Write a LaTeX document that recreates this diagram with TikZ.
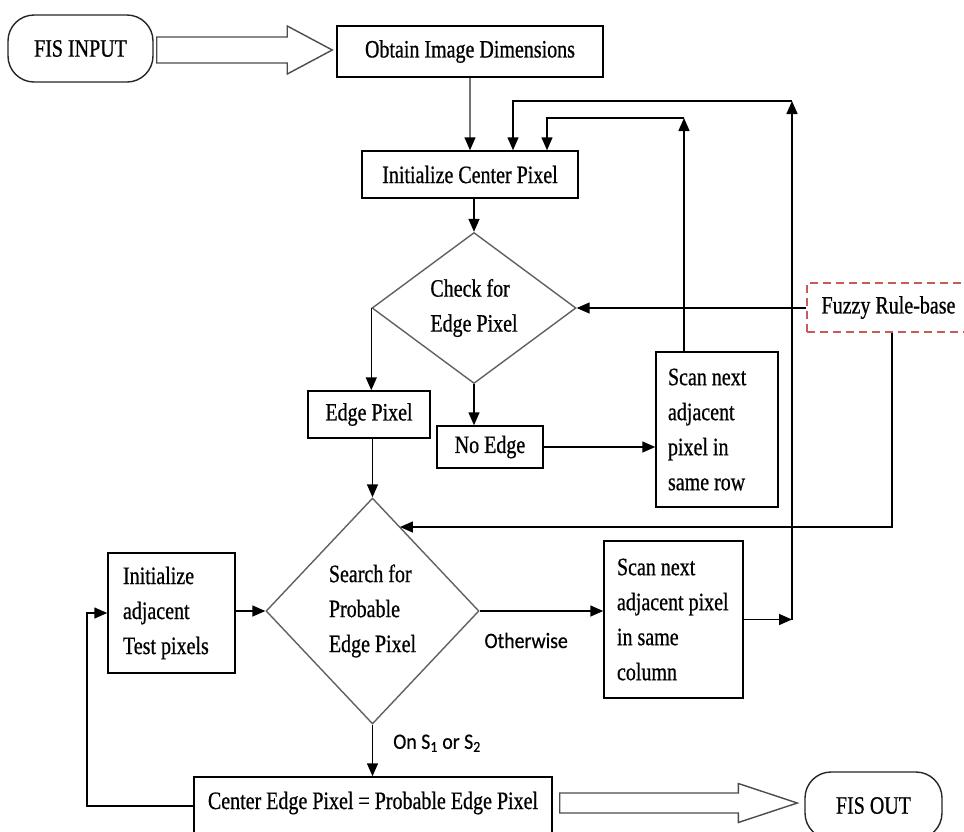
\documentclass[tikz,border=0pt]{standalone}
\usepackage{fontspec}
\setmainfont{Liberation Serif}[FakeStretch=0.8,FakeBold=0.7]
\newfontfamily\lblfont{Carlito}[FakeStretch=0.9,FakeBold=0.4]
\usetikzlibrary{shapes.geometric,arrows.meta,calc}
\definecolor{fuzzyred}{HTML}{C85A58}
\begin{document}
\begin{tikzpicture}[x=1pt,y=-1pt,
  every node/.style={font=\fontsize{25}{35}\selectfont, inner sep=0pt},
  box/.style={draw=black, line width=1.5pt, rectangle},
  term/.style={draw=black!85, line width=1.4pt, rounded corners=26pt},
  dia/.style={diamond, draw=black!62, line width=1.4pt, align=left},
  arr/.style={line width=1.5pt, -{Triangle[length=13pt,width=11pt,color=black]}},
  hollow/.style={draw=black!70, line width=1.4pt, fill=white, line join=miter},
  lbl/.style={font=\lblfont\fontsize{22}{26}\selectfont},
]
\useasboundingbox (0,0) rectangle (964,831);
\fill[white] (0,0) rectangle (964,831);
\clip (0,0) rectangle (964,831);

% nodes
\node[term, minimum width=145pt, minimum height=67pt] (fisin) at (80.5,48.5) {FIS INPUT};
\node[box, minimum width=266pt, minimum height=51pt] (obtain) at (470,51.5) {Obtain Image Dimensions};
\node[box, minimum width=216pt, minimum height=47pt] (initc) at (470,174.5) {Initialize Center Pixel};
\node[dia, minimum width=204pt, minimum height=151pt] (check) at (474,308) {Check for\\Edge Pixel};
\node[box, minimum width=122pt, minimum height=47pt] (edgep) at (369,414.5) {Edge Pixel};
\node[box, minimum width=106pt, minimum height=42pt] (noedge) at (490,447) {No Edge};
\node[box, text width=98pt, inner xsep=12pt, minimum height=155pt, align=flush left] (scanrow) at (717,429.5) {Scan next\\adjacent\\pixel in\\same row};
\node[draw=fuzzyred, dash pattern=on 8pt off 5pt, line width=1.6pt, minimum width=163pt, minimum height=49pt] (fuzzy) at (888.5,307.5) {Fuzzy Rule-base};
\node[dia, minimum width=213pt, minimum height=226pt] (search) at (372.5,611) {Search for\\Probable\\Edge Pixel};
\node[box, text width=97pt, inner xsep=15pt, minimum height=120pt, align=flush left] (initadj) at (171.5,613) {Initialize\\adjacent\\Test pixels};
\node[box, text width=113pt, inner xsep=13pt, minimum height=157pt, align=flush left] (scancol) at (673.5,619.5) {Scan next\\adjacent pixel\\in same\\column};
\node[box, minimum width=358pt, minimum height=58pt, text height=16pt, text depth=10pt] (cep) at (373,806) {Center Edge Pixel = Probable Edge Pixel};
\node[term, minimum width=137pt, minimum height=67pt] (fisout) at (873.5,805.5) {FIS OUT};

% bend points
\coordinate (r1) at (684,118);
\coordinate (r2) at (792,101);
\coordinate (f1) at (892,527);
\coordinate (l1) at (87,804);

% connectors
\draw[arr, draw=black!55] (obtain.south) -- (initc.north);
\draw[arr] (check.north |- initc.south) -- (check.north);
\draw[arr] (check.west) -- (check.west |- edgep.north);
\draw[arr] (check.south) -- (check.south |- noedge.north);
\draw[arr] (search.north |- edgep.south) -- (search.north);
\draw[arr] (noedge.east) -- (noedge.east -| scanrow.west);
\draw[arr] (scanrow.north -| r1) -- (r1);
\draw[arr] (r1) -| ($(initc.north)+(77,0)$);
\draw[arr] (scancol.east) -- (scancol.east -| r2);
\draw[arr] (scancol.east -| r2) -- (r2);
\draw[arr] (r2) -| ($(initc.north)+(43,0)$);
\draw[arr] (fuzzy.west |- check.east) -- (check.east);
\draw[arr] (fuzzy.south -| f1) -- (f1) -- (f1 -| search.72);
\draw[arr] (initadj.east |- search.west) -- (search.west);
\draw[arr] (search.east) -- (search.east -| scancol.west)
  node[lbl, pos=0.376, below=21pt] {Otherwise};
\draw[arr] (search.south) -- (search.south |- cep.north)
  node[lbl, pos=0.36, right=20pt] {On S\textsubscript{1} or S\textsubscript{2}};
\draw[arr] (cep.west) -- (cep.west -| l1) -- (l1 |- initadj.west) -- (initadj.west);

% hollow block arrows
\coordinate (a1s) at ($(fisin.east)+(3,1.5)$);
\coordinate (a1t) at ($(obtain.west)+(-4,-1.5)$);
\coordinate (a1h) at ($(a1t)+(-45,0)$);
\draw[hollow] ($(a1s)+(0,-13)$) -- ($(a1h)+(0,-13)$) -- ($(a1h)+(0,-24)$) -- (a1t)
  -- ($(a1h)+(0,24)$) -- ($(a1h)+(0,13)$) -- ($(a1s)+(0,13)$) -- cycle;
\coordinate (a2s) at ($(cep.east)+(7,-3)$);
\coordinate (a2t) at ($(fisout.west)+(-7,-2.5)$);
\coordinate (a2h) at ($(a2t)+(-59,0)$);
\draw[hollow] ($(a2s)+(0,-10)$) -- ($(a2h)+(0,-10)$) -- ($(a2h)+(0,-19.5)$) -- (a2t)
  -- ($(a2h)+(0,19.5)$) -- ($(a2h)+(0,10)$) -- ($(a2s)+(0,10)$) -- cycle;
\end{tikzpicture}
\end{document}
